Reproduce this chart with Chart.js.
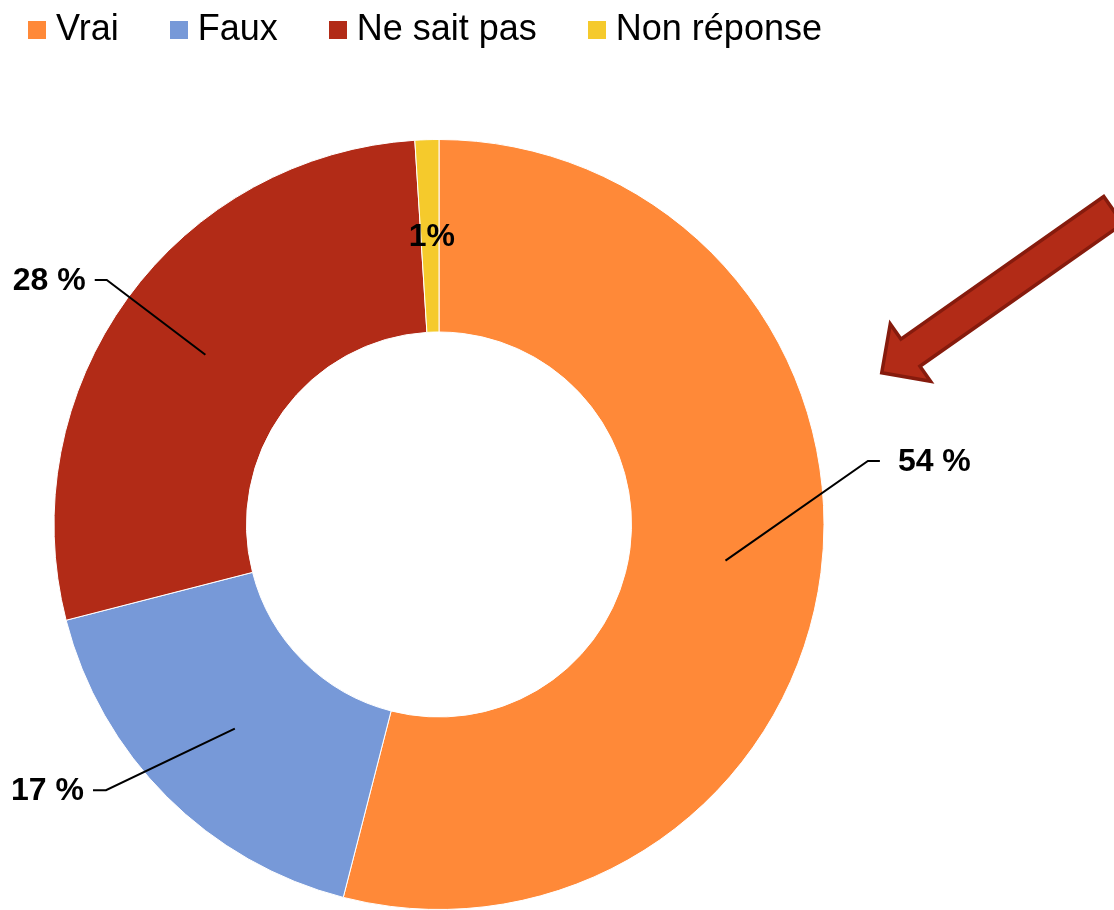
<!DOCTYPE html>
<html>
<head>
<meta charset="utf-8">
<script src="https://cdn.jsdelivr.net/npm/chart.js@4.4.1/dist/chart.umd.min.js"></script>
<style>
html,body{margin:0;padding:0;background:#fff;}
#wrap{width:1114px;height:910px;position:relative;background:#fff;}
</style>
</head>
<body>
<div id="wrap"><canvas id="c" width="1114" height="910"></canvas></div>
<script>
// ---- data ----
const categories = ['Vrai', 'Faux', 'Ne sait pas', 'Non réponse'];
const values = [54, 17, 28, 1];
const valueLabels = ['54 %', '17 %', '28 %', '1%'];
const colors = ['#FF8938', '#7799D8', '#B22B17', '#F5CA2C'];

// ---- legend swatches (18x18 squares) ----
function swatch(c) {
  const cv = document.createElement('canvas');
  cv.width = 18; cv.height = 18;
  const x = cv.getContext('2d');
  x.fillStyle = c; x.fillRect(0, 0, 18, 18);
  return cv;
}
const swatches = colors.map(swatch);

// leader line layout (relative to doughnut centre, in units of outer radius)
const leaderStyle = [
  {ex: 1.114, ey: -0.165, seg: 12, gap: 18, side: 1},
  {ex: -0.865, ey: 0.690, seg: -13, gap: 9, side: -1},
  {ex: -0.863, ey: -0.635, seg: -12, gap: 9, side: -1},
  null
];

const legendPlugin = {
  id: 'legendLayout',
  beforeInit(chart) {
    const orig = chart.legend.fit;
    chart.legend.fit = function () {
      this.maxWidth = Math.max(this.maxWidth, 1114);
      orig.bind(chart.legend)();
      this.height = 186;
    };
  },
  afterLayout(chart) {
    chart.legend.left = -23;
    chart.legend.right = 1114;
    chart.legend.width = 1137;
  }
};

const labelPlugin = {
  id: 'sliceLabels',
  afterDatasetsDraw(chart) {
    const ctx = chart.ctx;
    const meta = chart.getDatasetMeta(0);
    meta.data.forEach((arc, i) => {
      const p = arc.getProps(['x', 'y', 'startAngle', 'endAngle', 'innerRadius', 'outerRadius'], true);
      const mid = (p.startAngle + p.endAngle) / 2;
      const rm = (p.innerRadius + p.outerRadius) / 2;
      const R = p.outerRadius;
      const ax = p.x + Math.cos(mid) * rm, ay = p.y + Math.sin(mid) * rm;
      ctx.save();
      ctx.font = 'bold 32px "Liberation Sans", Arial, sans-serif';
      ctx.fillStyle = '#000';
      ctx.textBaseline = 'middle';
      const L = leaderStyle[i];
      if (!L) {
        ctx.textAlign = 'center';
        ctx.fillText(valueLabels[i], ax + 2, ay + 1);
      } else {
        const ex = p.x + L.ex * R, ey = p.y + L.ey * R;
        ctx.beginPath();
        ctx.moveTo(ax, ay);
        ctx.lineTo(ex, ey);
        ctx.lineTo(ex + L.seg, ey);
        ctx.lineWidth = 2;
        ctx.strokeStyle = '#000';
        ctx.stroke();
        ctx.textAlign = L.side > 0 ? 'left' : 'right';
        ctx.fillText(valueLabels[i], ex + L.seg + L.side * L.gap, ey + 1);
      }
      ctx.restore();
    });
  }
};

const arrowPlugin = {
  id: 'arrow',
  afterDraw(chart) {
    const ctx = chart.ctx;
    const a = chart.getDatasetMeta(0).data[0];
    const {x, y, outerRadius: R} = a.getProps(['x', 'y', 'outerRadius'], true);
    const tx = x + 1.150 * R, ty = y - 0.394 * R;
    const ang = -35.1 * Math.PI / 180;
    const ux = Math.cos(ang), uy = Math.sin(ang);
    const nx = -uy, ny = ux;
    const hl = 0.091 * R, hw = 0.091 * R, sw = 0.043 * R, len = 0.735 * R;
    const P = (t, s) => [tx + ux * t + nx * s, ty + uy * t + ny * s];
    const pts = [P(0, 0), P(hl, -hw), P(hl, -sw), P(len, -sw), P(len, sw), P(hl, sw), P(hl, hw)];
    ctx.save();
    ctx.beginPath();
    pts.forEach((q, k) => k ? ctx.lineTo(q[0], q[1]) : ctx.moveTo(q[0], q[1]));
    ctx.closePath();
    ctx.fillStyle = '#B22B17';
    ctx.fill();
    ctx.lineWidth = 3.5;
    ctx.lineJoin = 'miter';
    ctx.strokeStyle = '#861B0D';
    ctx.stroke();
    ctx.restore();
  }
};

new Chart(document.getElementById('c'), {
  type: 'doughnut',
  data: {
    labels: categories,
    datasets: [{
      data: values,
      backgroundColor: colors,
      borderColor: '#ffffff',
      borderWidth: 1,
      hoverOffset: 0
    }]
  },
  options: {
    responsive: false,
    animation: false,
    events: [],
    cutout: '50%',
    layout: {padding: {top: -47, left: 0, right: 236, bottom: 0}},
    plugins: {
      tooltip: {enabled: false},
      legend: {
        display: true,
        position: 'top',
        align: 'start',
        labels: {
          usePointStyle: true,
          boxWidth: 2,
          boxHeight: 18,
          padding: 59,
          color: '#000',
          font: {family: '"Liberation Sans", Arial, sans-serif', size: 36},
          generateLabels: () => categories.map((t, i) => ({
            text: t,
            fillStyle: colors[i],
            strokeStyle: colors[i],
            lineWidth: 0,
            pointStyle: swatches[i],
            fontColor: '#000',
            hidden: false,
            index: i
          }))
        }
      }
    }
  },
  plugins: [legendPlugin, labelPlugin, arrowPlugin]
});
</script>
</body>
</html>
